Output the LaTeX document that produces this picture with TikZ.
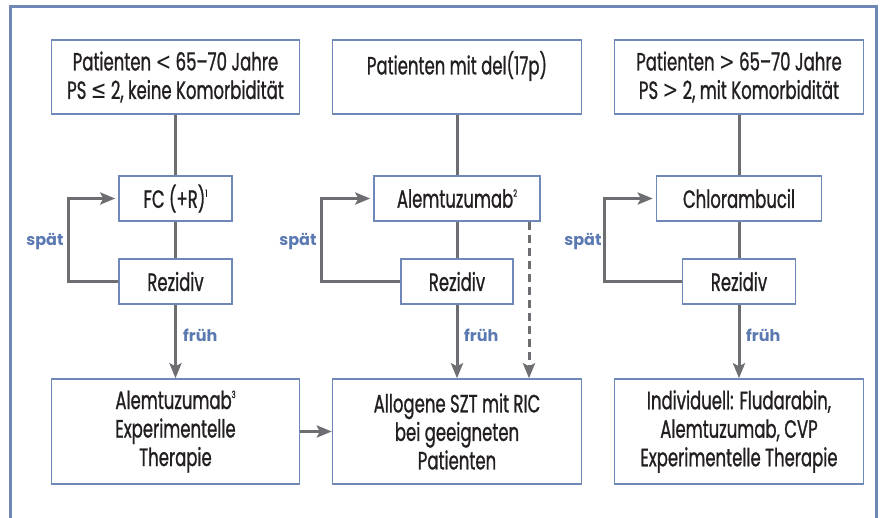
\documentclass[tikz,border=0pt]{standalone}
\usepackage{fontspec}
\setmainfont{Poppins}[FakeStretch=0.66,FakeBold=0.9]
\newfontfamily\labelfont{Poppins}
\newfontfamily\symfont{DejaVu Sans}[FakeStretch=0.75]
\usetikzlibrary{arrows.meta}
\definecolor{boxblue}{HTML}{6F88B8}
\definecolor{lngray}{HTML}{6D6E71}
\definecolor{labblue}{HTML}{5B79B1}
\definecolor{txt}{HTML}{231F20}
\newcommand{\supnum}[1]{\raisebox{0.8ex}{\fontsize{10}{10}\selectfont #1}}
\tikzset{
  box/.style={draw=boxblue, line width=1.5pt, fill=white, inner sep=0pt, align=center,
    text=txt, font=\fontsize{25}{28.5}\selectfont},
  ln/.style={draw=lngray, line width=3pt},
  arr/.style={-{Stealth[length=15pt,width=12pt,inset=3pt]}},
  lab/.style={text=labblue, font=\labelfont\bfseries\fontsize{16}{18}\selectfont, inner sep=0pt},
  frame/.style={draw=boxblue, line width=3pt}
}
\begin{document}
\begin{tikzpicture}[x=1pt,y=-1pt]
\useasboundingbox (0,0) rectangle (881,517);
\draw[frame] (10,520) -- (10,6) -- (876,6) -- (876,520);
% top boxes
\node[box, minimum width=248pt, minimum height=74pt] (p1) at (175.5,77) {Patienten {\symfont <} 65–70 Jahre\\PS {\symfont ≤} 2, keine Komorbidität};
\node[box, minimum width=249pt, minimum height=74pt] (p2) at (457,77) {Patienten mit del(17p)\\\phantom{X}};
\node[box, minimum width=249pt, minimum height=74pt] (p3) at (739,77) {Patienten {\symfont >} 65–70 Jahre\\PS {\symfont >} 2, mit Komorbidität};
% therapy boxes
\node[box, minimum width=113pt, minimum height=45pt] (fc) at (175.5,198.5) {FC (+R)\supnum{1}};
\node[box, minimum width=166pt, minimum height=45pt] (a2) at (457,198.5) {Alemtuzumab\supnum{2}};
\node[box, minimum width=165pt, minimum height=45pt] (ch) at (739,198.5) {Chlorambucil};
% relapse boxes
\node[box, minimum width=113pt, minimum height=45pt] (r1) at (175.5,281.5) {Rezidiv};
\node[box, minimum width=112pt, minimum height=45pt] (r2) at (457,281.5) {Rezidiv};
\node[box, minimum width=113pt, minimum height=45pt] (r3) at (739,281.5) {Rezidiv};
% bottom boxes
\node[box, minimum width=248pt, minimum height=105pt] (b1) at (175.5,431.5) {Alemtuzumab\supnum{3}\\Experimentelle\\Therapie};
\node[box, minimum width=249pt, minimum height=105pt] (b2) at (457,431.5) {Allogene SZT mit RIC\\bei geeigneten\\Patienten};
\node[box, minimum width=249pt, minimum height=105pt] (b3) at (739,431.5) {Individuell: Fludarabin,\\Alemtuzumab, CVP\\Experimentelle Therapie};
% loop coordinates
\coordinate (l1) at (68,0);
\coordinate (l2) at (321,0);
\coordinate (l3) at (604,0);
\coordinate (d2) at (529,0);
% column 1
\draw[ln] (p1.south) -- (fc.north);
\draw[ln] (fc.south) -- (r1.north);
\draw[ln,arr] (r1.south) -- (b1.north);
\draw[ln,arr,shorten >=3pt] (r1.west) -- (r1.west -| l1) -- (fc.west -| l1) -- (fc.west);
% column 2
\draw[ln] (p2.south) -- (a2.north);
\draw[ln] (a2.south) -- (r2.north);
\draw[ln,arr] (r2.south) -- (b2.north);
\draw[ln,arr,shorten >=3pt] (r2.west) -- (r2.west -| l2) -- (a2.west -| l2) -- (a2.west);
\draw[ln,arr,dash pattern=on 8pt off 5pt] (a2.south -| d2) -- (b2.north -| d2);
% column 3
\draw[ln] (p3.south) -- (ch.north);
\draw[ln] (ch.south) -- (r3.north);
\draw[ln,arr] (r3.south) -- (b3.north);
\draw[ln,arr,shorten >=3pt] (r3.west) -- (r3.west -| l3) -- (ch.west -| l3) -- (ch.west);
% cross arrow
\draw[ln,arr] (b1.east) -- (b2.west);
% labels
\node[lab] (s1) at (45,241) {spät};
\node[lab] (s2) at (298,241) {spät};
\node[lab] (s3) at (583,241) {spät};
\node[lab, anchor=west] (f1) at (183,335) {früh};
\node[lab, anchor=west] (f2) at (464,335) {früh};
\node[lab, anchor=west] (f3) at (746,335) {früh};
\end{tikzpicture}
\end{document}
